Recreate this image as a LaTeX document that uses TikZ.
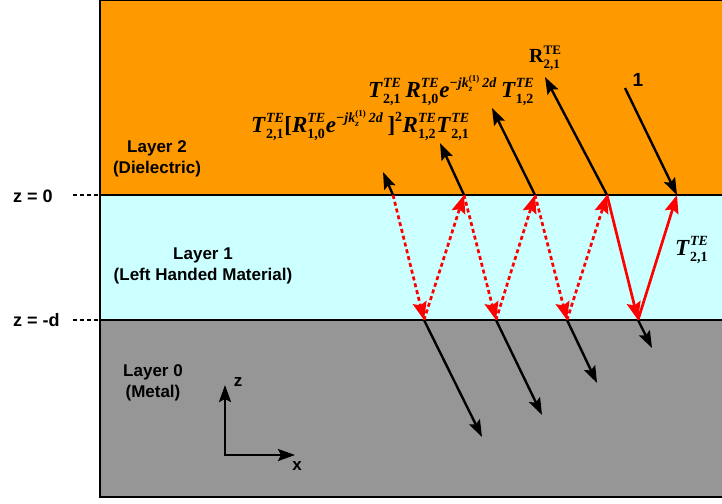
\documentclass[tikz,border=0pt]{standalone}
\usepackage{amsmath}
\usepackage{fontspec}
\setmainfont{Liberation Serif}
\setsansfont{Liberation Sans}
\usepackage{tikz}
\usetikzlibrary{arrows.meta}
\DeclareMathSizes{23}{23}{14}{9}
\DeclareMathSizes{20}{20}{13}{9}
\definecolor{dielectric}{HTML}{FF9900}
\definecolor{lhm}{HTML}{CCFFFF}
\definecolor{metal}{HTML}{969696}
\newcommand{\bi}[1]{\textbf{\textit{#1}}}
\newcommand{\coefT}[1]{\bi{T}^{\bi{TE}}_{\textbf{#1}}}
\newcommand{\coefR}[1]{\bi{R}^{\bi{TE}}_{\textbf{#1}}}
\newcommand{\phase}{\bi{e}^{\bi{−jk}_{\bi{z}}^{\textbf{(1)}}\,\bi{2d}}}

\begin{document}
\begin{tikzpicture}[
  x=1pt, y=-1pt,
  ray/.style={-{Stealth[length=17pt, width=12pt, inset=3pt]}, line width=2.4pt},
  axes/.style={{Stealth[length=17pt, width=12pt, inset=3pt]}-{Stealth[length=17pt, width=12pt, inset=3pt]}, line width=2.4pt},
  wave/.style={-{Stealth[length=18pt, width=14pt, inset=3pt]}, line width=2.7pt, red},
  echo/.style={wave, dash pattern=on 4pt off 3pt},
  layertext/.style={font=\fontsize{17}{21}\sffamily\bfseries, align=center},
  zlevel/.style={font=\fontsize{18}{21}\sffamily\bfseries, anchor=west, inner sep=0pt},
  coef/.style={font=\fontsize{23}{26}\selectfont, anchor=base west, inner sep=0pt}
]
  \useasboundingbox (0,0) rectangle (722,503);

  % Layers top to bottom
  \fill[dielectric] (100,0) rectangle (726,195);
  \fill[lhm] (100,195) rectangle (726,320);
  \fill[metal] (100,320) rectangle (726,497);
  \draw[line width=1.5pt] (726,0) -- (100,0) -- (100,497) -- (726,497);
  \draw[line width=1.5pt] (100,195) -- (726,195) (100,320) -- (726,320);

  % Layer names and interface levels
  \node[layertext] (layer2) at (157,159) {Layer 2\\(Dielectric)};
  \node[layertext] (layer1) at (203,265.5) {Layer 1\\(Left Handed Material)};
  \node[layertext] (layer0) at (153,382.5) {Layer 0\\(Metal)};
  \node[zlevel] (zzero) at (13,196) {z = 0};
  \node[zlevel] (zminus) at (13,320) {z = -d};
  \coordinate (lz0) at (73,195);
  \coordinate (lz1) at (73,320);
  \draw[line width=2pt, dash pattern=on 4pt off 3pt] (lz0) -- (100,195) (lz1) -- (100,320);

  % Points on the interfaces
  \foreach \n/\x in {0/393, 1/464, 2/535, 3/607, 4/677} {
    \coordinate (t\n) at (\x,195);
  }
  \foreach \n/\x in {0/424, 1/496, 2/567, 3/638} {
    \coordinate (b\n) at (\x,320);
  }

  % Ray ends in layers 2 and 0
  \coordinate (in) at (625,88);
  \coordinate (r0) at (383,172);
  \coordinate (r1) at (440,143);
  \coordinate (r2) at (492,108);
  \coordinate (r3) at (545,77);
  \coordinate (m0) at (482,437);
  \coordinate (m1) at (542,415);
  \coordinate (m2) at (597,383);
  \coordinate (m3) at (652,348);

  % Black rays
  \draw[ray] (in) -- (t4);
  \foreach \n in {0,...,3} {
    \draw[ray] (t\n) -- (r\n);
    \draw[ray] (b\n) -- (m\n);
  }

  % Bounces inside layer 1
  \foreach \a/\b in {t0/b0, b0/t1, t1/b1, b1/t2, t2/b2, b2/t3} {
    \draw[echo] (\a) -- (\b);
  }
  \draw[wave] (t3) -- (b3);
  \draw[wave] (b3) -- (t4);

  % Coefficients
  \node[font=\fontsize{20}{24}\selectfont, anchor=base west, inner sep=0pt] (refl) at (529,63)
    {$\textbf{R}^{\textbf{TE}}_{\textbf{2,1}}$};
  \node[font=\fontsize{19}{22}\sffamily\bfseries] (one) at (638,80) {1};
  \node[coef] (first) at (368,97) {$\coefT{2,1}\,\coefR{1,0}\phase\,\coefT{1,2}$};
  \node[coef] (second) at (251,132)
    {$\coefT{2,1}\textbf{[}\coefR{1,0}\phase\,\textbf{]}^{\textbf{2}}\coefR{1,2}\coefT{2,1}$};
  \node[coef] (trans) at (675,255) {$\coefT{2,1}$};

  % Axes
  \coordinate (o) at (225,455);
  \coordinate (zt) at (225,385);
  \coordinate (xt) at (295,455);
  \draw[axes] (zt) -- (o) -- (xt);
  \node[font=\fontsize{17}{20}\sffamily\bfseries] (zlab) at (238,382) {z};
  \node[font=\fontsize{17}{20}\sffamily\bfseries] (xlab) at (297,466) {x};
\end{tikzpicture}
\end{document}
